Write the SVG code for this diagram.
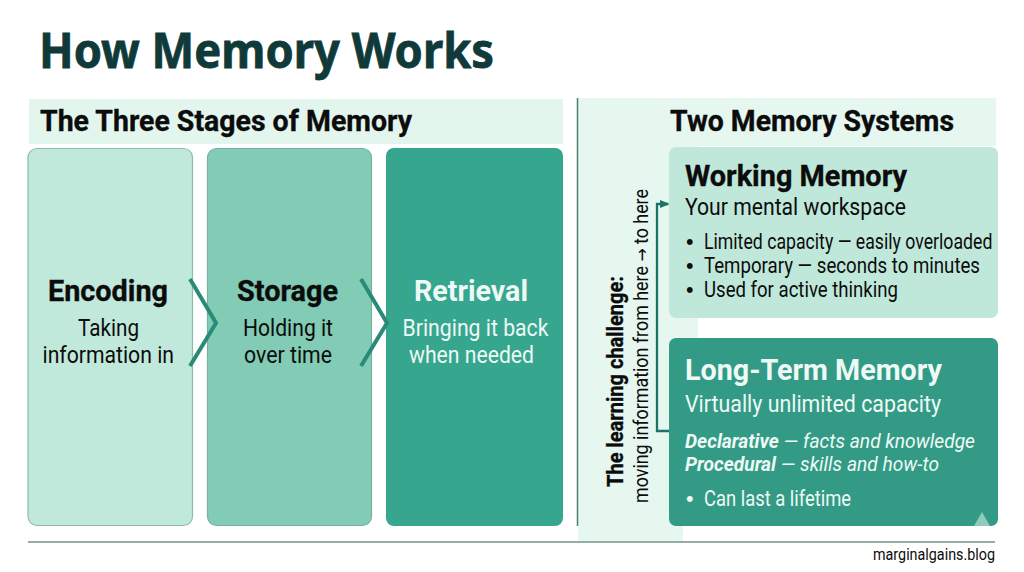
<svg xmlns="http://www.w3.org/2000/svg" width="1024" height="572" viewBox="0 0 1024 572">
<style>
text{font-family:Roboto,"Liberation Sans",sans-serif;font-size:23px}
.d{fill:#0c0c0c}.w{fill:#eef9f5}
.h{font-weight:700;font-size:29.500px;stroke-width:.4}
.d.h,.d.t{stroke:#0c0c0c;stroke-width:.35}
.s{font-size:23.500px}
.b{font-size:21.500px}
.m{font-size:19.600px}
.i{font-style:italic}
.t{font-weight:700}
.dot{font-family:"Liberation Sans",sans-serif;font-size:21.500px}
.arrow{fill:none;stroke:#2a8a78;stroke-width:4}
.flow{fill:none;stroke:#1b7566;stroke-width:2.300}
</style>
<defs><marker id="head" markerWidth="10" markerHeight="8" refX="8" refY="4" orient="auto" markerUnits="userSpaceOnUse"><path d="M0 0L10 4L0 8Z" fill="#1b7566"/></marker></defs>
<rect width="1024" height="572" fill="#fff"/>
<g id="panels">
<rect x="29" y="99" width="534" height="45" fill="#e3f6ee"/>
<path d="M578 98H996V146H698V320H698V542H683V542H578Z" fill="#e6f7f0"/>
<path d="M698 320H998V338H698Z" fill="#fff"/>
<rect x="683" y="526" width="20" height="17" fill="#fff"/>
</g>
<text x="39" y="68" font-weight="700" fill="#0f3a39" stroke="#0f3a39" stroke-width=".8" style="font-family:'Noto Sans',sans-serif;font-size:48px" textLength="455" lengthAdjust="spacingAndGlyphs">How Memory Works</text>
<text x="40" y="131" class="d t" style="font-size:29px" textLength="372" lengthAdjust="spacingAndGlyphs">The Three Stages of Memory</text>
<g id="encoding">
<rect x="28" y="148.500" width="164.500" height="377" rx="9" fill="#c0e9dc" stroke="#8dbcae" stroke-width="1.200"/>
<text x="48" y="301" class="d h" textLength="120" lengthAdjust="spacingAndGlyphs">Encoding</text>
<text x="78" y="336" class="d s" textLength="61" lengthAdjust="spacingAndGlyphs">Taking</text>
<text x="42.500" y="363" class="d s" textLength="131.500" lengthAdjust="spacingAndGlyphs">information in</text>
</g>
<g id="storage">
<rect x="207.500" y="148.500" width="164" height="377" rx="9" fill="#82cbb5" stroke="#74b3a1" stroke-width="1.200"/>
<text x="237" y="301" class="d h" textLength="101" lengthAdjust="spacingAndGlyphs">Storage</text>
<text x="243" y="336" class="d s" textLength="90" lengthAdjust="spacingAndGlyphs">Holding it</text>
<text x="244" y="363" class="d s" textLength="88" lengthAdjust="spacingAndGlyphs">over time</text>
</g>
<g id="retrieval">
<rect x="386" y="148" width="177" height="378" rx="8" fill="#37a68f"/>
<text x="414" y="301" class="w h" textLength="114" lengthAdjust="spacingAndGlyphs">Retrieval</text>
<text x="402.500" y="336" class="w s" textLength="146" lengthAdjust="spacingAndGlyphs">Bringing it back</text>
<text x="409" y="363" class="w s" textLength="125" lengthAdjust="spacingAndGlyphs">when needed</text>
</g>
<g id="connectors">
<path class="arrow" d="M190 279L216 323L190 366"/>
<path class="arrow" d="M361 279L387 323L361 366"/>
<path class="flow" d="M669 431H657V204H668" marker-end="url(#head)"/>
</g>
<line x1="577.500" y1="98" x2="577.500" y2="526" stroke="#4a7f73" stroke-width="1.500"/>
<text x="670" y="131" class="d t" style="font-size:29px" textLength="284" lengthAdjust="spacingAndGlyphs">Two Memory Systems</text>
<g id="challenge">
<text transform="translate(623 487) rotate(-90)" class="d t" style="font-size:21.500px" textLength="211" lengthAdjust="spacingAndGlyphs">The learning challenge:</text>
<text transform="translate(648 503) rotate(-90)" class="d" style="font-size:20.500px" textLength="314" lengthAdjust="spacingAndGlyphs">moving information from here <tspan style="font-family:'DejaVu Sans',sans-serif;font-size:18px">→</tspan> to here</text>
</g>
<g id="working-memory">
<rect x="669" y="147" width="329" height="171" rx="7" fill="#bfe8db"/>
<text x="685" y="186" class="d t" style="font-size:29.500px" textLength="222" lengthAdjust="spacingAndGlyphs">Working Memory</text>
<text x="685" y="215" class="d s" textLength="221" lengthAdjust="spacingAndGlyphs">Your mental workspace</text>
<text x="686" y="249" class="d dot">•</text><text transform="translate(704 249) scale(.823 1)" class="d b">Limited capacity — easily overloaded</text>
<text x="686" y="273" class="d dot">•</text><text x="704" y="273" class="d b" textLength="276" lengthAdjust="spacingAndGlyphs">Temporary — seconds to minutes</text>
<text x="686" y="297" class="d dot">•</text><text x="704" y="297" class="d b" textLength="194" lengthAdjust="spacingAndGlyphs">Used for active thinking</text>
</g>
<g id="long-term-memory">
<rect x="669" y="338" width="329" height="188" rx="7" fill="#339b85"/>
<path d="M974 526L982 512L990 526Z" fill="#8fcbbb"/>
<text x="685" y="380" class="w t" style="font-size:29.500px" textLength="257" lengthAdjust="spacingAndGlyphs">Long-Term Memory</text>
<text x="685" y="412" class="w s" textLength="256" lengthAdjust="spacingAndGlyphs">Virtually unlimited capacity</text>
<text x="685" y="448" class="w m i" textLength="290" lengthAdjust="spacingAndGlyphs"><tspan class="t">Declarative</tspan> — facts and knowledge</text>
<text x="685" y="471" class="w m i" textLength="254" lengthAdjust="spacingAndGlyphs"><tspan class="t">Procedural</tspan> — skills and how-to</text>
<text x="686" y="506" class="w dot">•</text><text x="704" y="506" class="w b" textLength="147" lengthAdjust="spacingAndGlyphs">Can last a lifetime</text>
</g>
<line x1="28" y1="542" x2="995" y2="542" stroke="#98aca5" stroke-width="1.800"/>
<text x="873" y="560" class="d" style="font-size:16px" textLength="122" lengthAdjust="spacingAndGlyphs">marginalgains.blog</text>
</svg>
